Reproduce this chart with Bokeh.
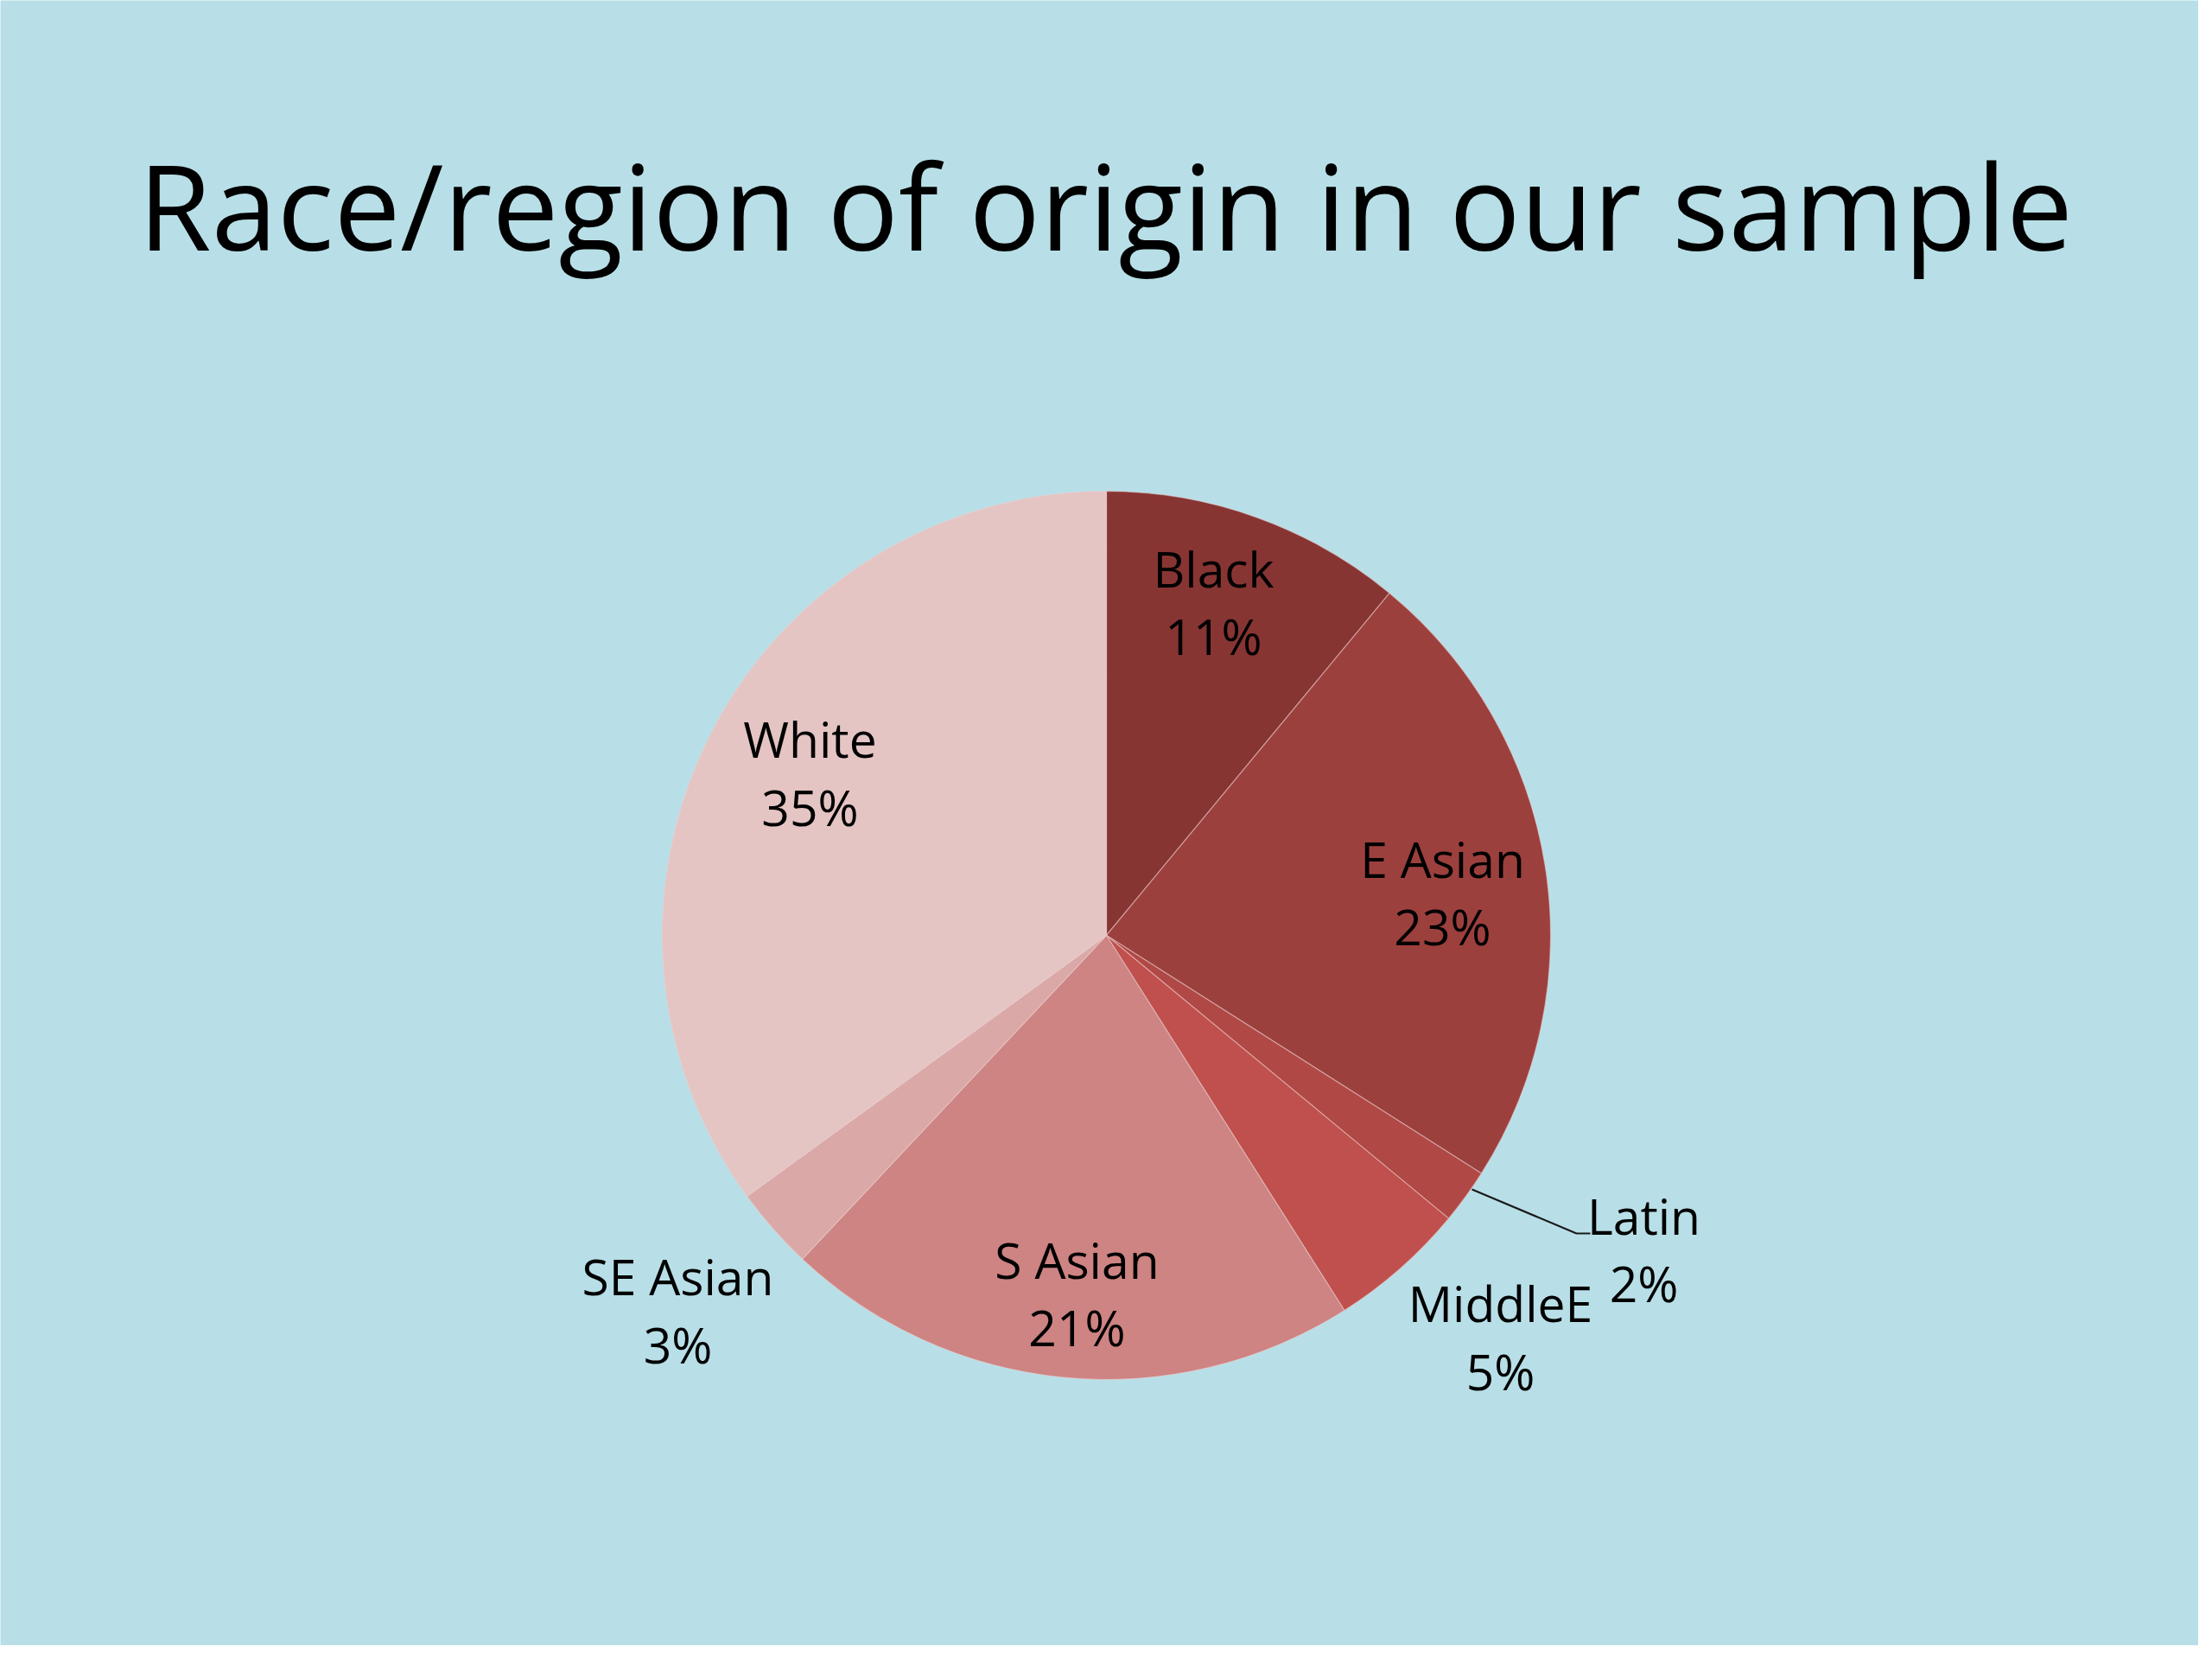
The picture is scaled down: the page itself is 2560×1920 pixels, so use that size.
import numpy as np
from bokeh.plotting import figure
from bokeh.models import Range1d, ColumnDataSource
from bokeh.core.properties import value
from bokeh.embed import file_html
from bokeh.resources import INLINE

# ---- data ----
categories = ["Black", "E Asian", "Latin", "MiddleE", "S Asian", "SE Asian", "White"]
percents = [11, 23, 2, 5, 21, 3, 35]
colors = ["#873533", "#9C403E", "#B04845", "#C0504D", "#CD8482", "#DAA8A7", "#E5C4C4"]
title_text = "Race/region of origin in our sample"

# ---- layout (screen px) ----
W, H = 2544, 1904
BG = "#B8DFE7"
cx_s, cy_s, R = 1280, 1082, 514
# label anchor: (center x, visual centre of name line, visual centre of percent line)
label_pos = {
    "Black": (1404, 660, 738),
    "E Asian": (1669, 996, 1074),
    "Latin": (1902, 1409, 1487),
    "MiddleE": (1736, 1510, 1589),
    "S Asian": (1246, 1460, 1538),
    "SE Asian": (784, 1479, 1558),
    "White": (937, 857, 936),
}
leader = [(1703, 1376), (1824, 1427), (1840, 1427)]
LBL_SHIFT = 3
TITLE_Y, TITLE_SHIFT = 242, 6


def Y(sy):
    return H - sy


p = figure(width=W, height=H, output_backend="svg", toolbar_location=None,
           x_range=Range1d(0, W), y_range=Range1d(0, H),
           min_border=0, background_fill_color=BG, border_fill_color=BG)
p.axis.visible = False
p.grid.visible = False
p.outline_line_color = None

vals = np.array(percents, dtype=float)
frac = vals / vals.sum()
cum = np.concatenate([[0], np.cumsum(frac)])
start = np.pi / 2 - 2 * np.pi * cum[1:]
end = np.pi / 2 - 2 * np.pi * cum[:-1]

src = ColumnDataSource(dict(cat=categories, start=start, end=end, color=colors,
                            x=[cx_s] * len(categories), y=[Y(cy_s)] * len(categories)))
p.wedge(x="x", y="y", radius=R, start_angle="start", end_angle="end",
        fill_color="color", line_color="#F0D0D0", line_alpha=0.5, line_width=1.2, source=src)

lx = [label_pos[c][0] for c in categories]
ly1 = [Y(label_pos[c][1] - LBL_SHIFT) for c in categories]
ly2 = [Y(label_pos[c][2] - LBL_SHIFT) for c in categories]
pct_txt = [f"{v}%" for v in percents]
font = value("Open Sans")
p.text(x=lx, y=ly1, text=categories, text_font=font, text_font_size="57px",
       text_align="center", text_baseline="alphabetic", text_color="#000000")
p.text(x=lx, y=ly2, text=pct_txt, text_font=font, text_font_size="57px",
       text_align="center", text_baseline="alphabetic", text_color="#000000")

p.line(x=[a for a, b in leader], y=[Y(b) for a, b in leader], line_color="#1a1a1a", line_width=2.2)

p.text(x=[1279], y=[Y(TITLE_Y - TITLE_SHIFT)], text=[title_text], text_font=font, text_font_size="137px",
       text_align="center", text_baseline="alphabetic", text_color="#000000")

html = file_html(p, INLINE)
html = html.replace("<body>", '<body style="background:%s;">' % BG, 1)
open("out.html", "w").write(html)
